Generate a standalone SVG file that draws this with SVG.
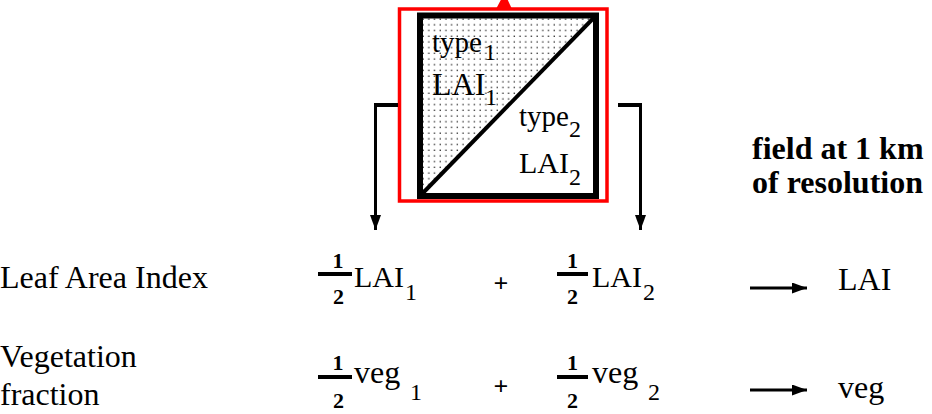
<svg xmlns="http://www.w3.org/2000/svg" width="932" height="414" viewBox="0 0 932 414" font-family="Liberation Serif, serif">
<defs>
<style>
.t32 { font-size: 32px; }
.t30 { font-size: 30px; }
.t29 { font-size: 29px; }
.sub { font-size: 24px; }
.num { font-size: 22px; font-weight: bold; text-anchor: middle; }
.plus { font-size: 26px; font-weight: bold; text-anchor: middle; }
.bold { font-size: 32px; font-weight: bold; }
.bar { stroke: #000; stroke-width: 4; }
.conn { stroke: #000; fill: none; }
</style>
<pattern id="dots" x="421" y="17" width="5.7" height="5.7" patternUnits="userSpaceOnUse">
<rect x="1.5" y="1.5" width="1.3" height="1.3" fill="#222"/>
</pattern>
<marker id="ah" viewBox="0 0 15 11" refX="15" refY="5.5" markerWidth="15" markerHeight="11" markerUnits="userSpaceOnUse" orient="auto">
<path d="M0,0 L15,5.5 L0,11 z" fill="#000"/>
</marker>
</defs>
<rect width="932" height="414" fill="#fff"/>

<g>
<polygon points="420,15.5 596,15.5 420,196" fill="url(#dots)"/>
<rect x="399.5" y="9" width="207.5" height="192" fill="none" stroke="#f00" stroke-width="3.5"/>
<polygon points="496,9 512,9 504.5,-7" fill="#f00"/>
<rect x="420" y="15.5" width="176" height="180.5" fill="none" stroke="#000" stroke-width="6"/>
<line x1="420" y1="196" x2="596" y2="15.5" stroke="#000" stroke-width="4"/>
<text class="t29" x="432" y="52">type<tspan class="sub" x="484" y="60">1</tspan></text>
<text class="t32" x="432" y="95">LAI<tspan class="sub" x="485" y="105">1</tspan></text>
<text class="t29" x="519" y="126">type<tspan class="sub" x="569" y="137">2</tspan></text>
<text class="t30" x="519" y="173">LAI<tspan class="sub" x="569" y="185">2</tspan></text>
</g>

<g>
<path class="conn" d="M398,105 H375.5" stroke-width="4"/>
<path class="conn" d="M375.5,103 V230" stroke-width="3" marker-end="url(#ah)"/>
<path class="conn" d="M618,105 H640.5" stroke-width="4"/>
<path class="conn" d="M640.5,103 V230" stroke-width="3" marker-end="url(#ah)"/>
<path class="conn" d="M750,288 H807" stroke-width="3" marker-end="url(#ah)"/>
<path class="conn" d="M750,390 H807" stroke-width="3" marker-end="url(#ah)"/>
</g>

<g>
<text class="bold" x="752" y="159">field at 1 km</text>
<text class="bold" x="752" y="193">of resolution</text>
</g>

<g>
<text class="t32" x="0" y="288">Leaf Area Index</text>
<text class="num" x="338" y="268">1</text>
<line class="bar" x1="318" y1="274" x2="352" y2="274"/>
<text class="num" x="338.5" y="304">2</text>
<text class="t30" x="354" y="287">LAI<tspan class="sub" x="405" y="300">1</tspan></text>
<text class="plus" x="501" y="292">+</text>
<text class="num" x="572.5" y="268">1</text>
<line class="bar" x1="557" y1="274" x2="588" y2="274"/>
<text class="num" x="572.5" y="304">2</text>
<text class="t30" x="592" y="287">LAI<tspan class="sub" x="643" y="300">2</tspan></text>
<text class="t32" x="838" y="290">LAI</text>
</g>

<g>
<text class="t32" x="0" y="367">Vegetation</text>
<text class="t32" x="0" y="405">fraction</text>
<text class="num" x="338" y="370">1</text>
<line class="bar" x1="318" y1="377" x2="352" y2="377"/>
<text class="num" x="338.5" y="408">2</text>
<text class="t32" x="354" y="383">veg<tspan class="sub" x="410" y="400">1</tspan></text>
<text class="plus" x="501" y="395">+</text>
<text class="num" x="572.5" y="370">1</text>
<line class="bar" x1="557" y1="377" x2="588" y2="377"/>
<text class="num" x="572.5" y="408">2</text>
<text class="t32" x="592" y="383">veg<tspan class="sub" x="648" y="400">2</tspan></text>
<text class="t32" x="838" y="398">veg</text>
</g>
</svg>
